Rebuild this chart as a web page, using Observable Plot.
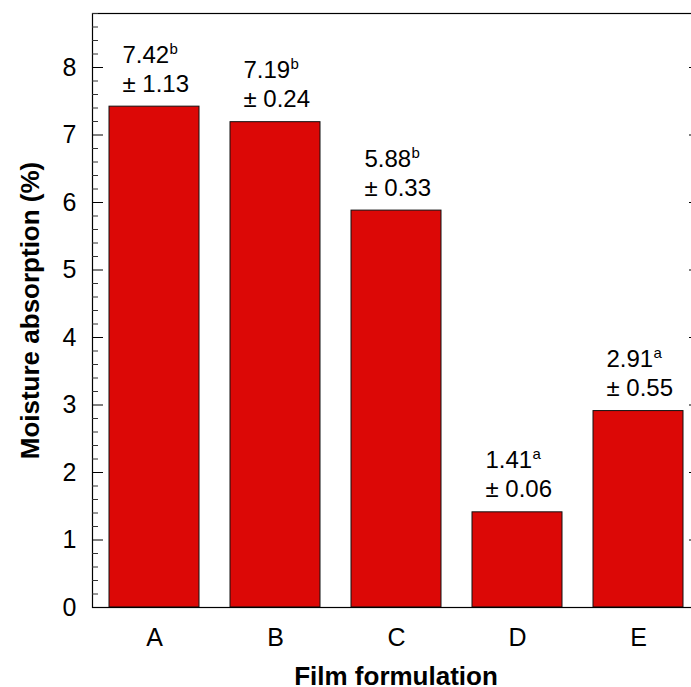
<!DOCTYPE html>
<html><head><meta charset="utf-8">
<script src="https://cdn.jsdelivr.net/npm/d3@7"></script>
<script src="https://cdn.jsdelivr.net/npm/@observablehq/plot@0.6"></script>
<style>html,body{margin:0;padding:0;overflow:hidden;background:#fff} svg{max-width:none !important;}</style>
</head><body><div id="chart"></div>
<script>
const formulations = ["A", "B", "C", "D", "E"];
const means = [7.42, 7.19, 5.88, 1.41, 2.91];
const sds = ["1.13", "0.24", "0.33", "0.06", "0.55"];
const letters = ["b", "b", "b", "a", "a"];
const majorTicks = [0, 1, 2, 3, 4, 5, 6, 7, 8];
const minorTicks = d3.range(0, 45).map(i => i / 5).filter(v => Math.abs(v - Math.round(v)) > 1e-9);
const yLabel = "Moisture absorption (%)";
const xLabel = "Film formulation";

const data = formulations.map((f, i) => ({f, v: means[i], sd: sds[i], letter: letters[i]}));
const fmt = d3.format(".2f");

const chart = Plot.plot({
  width: 700,
  height: 687,
  marginLeft: 92,
  marginRight: 1,
  marginTop: 13,
  marginBottom: 80,
  style: {fontFamily: "'Liberation Sans', Arial, Helvetica, sans-serif", fontSize: "24px", color: "black", background: "white", maxWidth: "none"},
  x: {domain: formulations, paddingInner: 0.26, paddingOuter: 0.132, axis: null},
  y: {domain: [0, 8.8], axis: null},
  marks: [
    Plot.barY(data, {x: "f", y: "v", fill: "#dc0806", stroke: "#111", strokeWidth: 1}),
    Plot.frame({stroke: "black", strokeWidth: 1.2}),
    Plot.axisX({tickSize: 0, tickPadding: 21, fontSize: 25, label: null}),
    Plot.axisY({anchor: "left", ticks: majorTicks, tickSize: 0, tickPadding: 16, fontSize: 25, label: null}),
    Plot.axisY({anchor: "left", ticks: majorTicks, tickSize: 11, dx: 11, fill: "none", label: null, stroke: "black"}),
    Plot.axisY({anchor: "left", ticks: minorTicks, tickSize: 6, dx: 6, fill: "none", label: null, stroke: "#333"}),
    Plot.axisY({anchor: "right", ticks: majorTicks, tickSize: 11, dx: -11, fill: "none", label: null, stroke: "black"}),
    Plot.axisY({anchor: "right", ticks: minorTicks, tickSize: 6, dx: -6, fill: "none", label: null, stroke: "#333"}),
    Plot.text([yLabel], {frameAnchor: "left", rotate: -90, dx: -62, fontWeight: "bold", fontSize: 26, textAnchor: "middle", lineAnchor: "middle"}),
    Plot.text([xLabel], {frameAnchor: "bottom", dy: 69, fontWeight: "bold", fontSize: 26, textAnchor: "middle", lineAnchor: "middle"}),
    Plot.text(data, {x: "f", y: "v", text: d => fmt(d.v), dx: -32, dy: -44, textAnchor: "start", lineAnchor: "bottom", fontSize: 24}),
    Plot.text(data, {x: "f", y: "v", text: d => `\u00b1 ${d.sd}`, dx: -32, dy: -15, textAnchor: "start", lineAnchor: "bottom", fontSize: 24}),
    Plot.text(data, {x: "f", y: "v", text: "letter", dx: 15, dy: -53, textAnchor: "start", lineAnchor: "bottom", fontSize: 15})
  ]
});
document.getElementById("chart").appendChild(chart);
</script>
</body></html>
